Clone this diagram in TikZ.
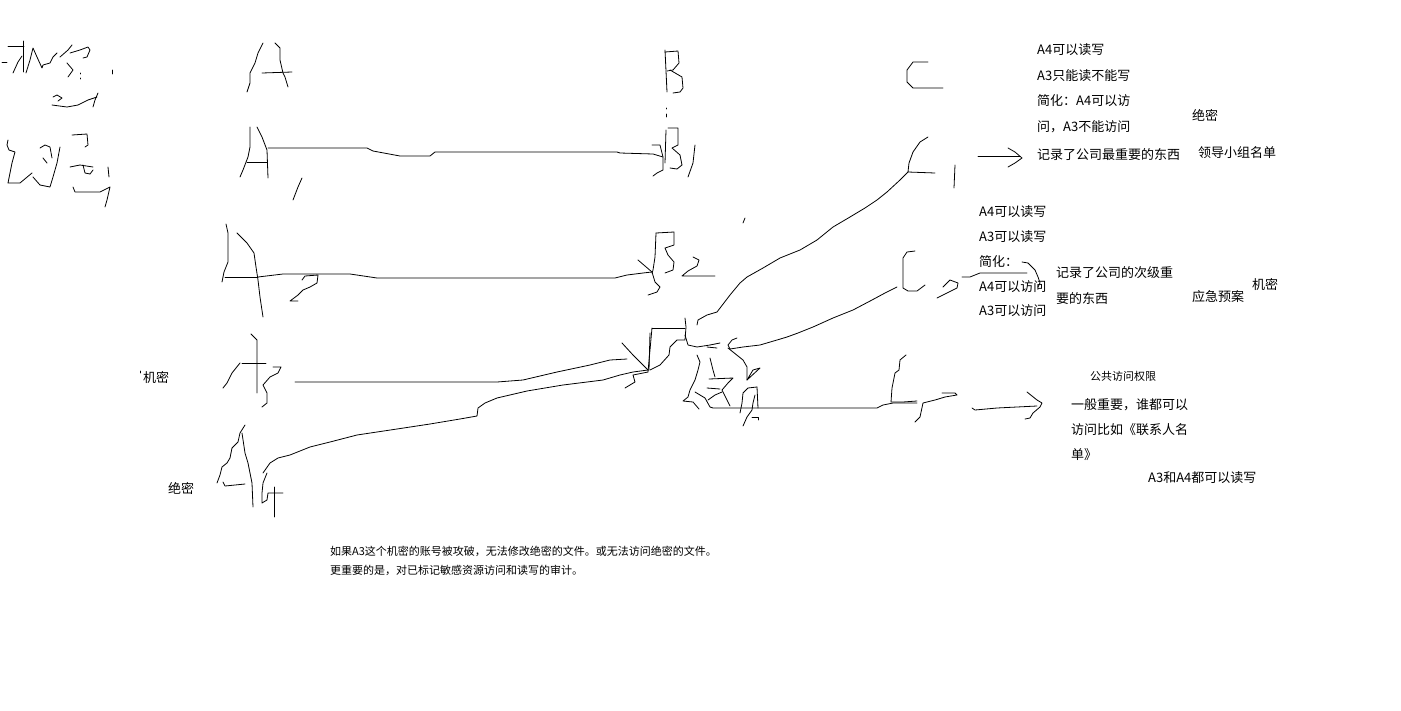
\documentclass[tikz,border=0pt]{standalone}
\usepackage{fontspec}
\newfontfamily\cjk{Noto Sans CJK SC}
\usetikzlibrary{positioning}

\begin{document}
\begin{tikzpicture}[
    x=1pt, y=-1pt,
    ink/.style={line width=0.8pt, line join=round, line cap=round},
    note/.style={anchor=west, inner sep=0pt, font=\cjk\fontsize{13}{13}\selectfont},
    small/.style={note, font=\cjk\fontsize{11}{11}\selectfont}
]
    \useasboundingbox[fill=white] (0,0) rectangle (1401,710);

    % Handwritten title marks
    \draw[ink] (2,62) -- (7,62);
    \draw[ink] (8,46) -- (24,46);
    \draw[ink] (23,41) -- (23,72);
    \draw[ink] (13,73) -- (18,62) -- (22,56);
    \draw[ink] (26,73) -- (30,60) -- (33,48) -- (37,57) -- (42,68) -- (43,65) -- (50,63) -- (53,57) -- (57,53);
    \draw[ink] (60,57) -- (68,50) -- (72,45);
    \draw[ink] (70,53) -- (80,50) -- (88,47) -- (90,50) -- (87,57) -- (83,58);
    \draw[ink] (67,63) -- (73,70) -- (68,77);
    \draw[ink] (80,73) -- (80,74) (80,78) -- (80,79);
    \draw[ink] (53,97) -- (57,95) -- (62,98) -- (58,101);
    \draw[ink] (52,105) -- (67,107) -- (78,105) -- (88,100) -- (97,97);
    \draw[ink] (98,93) -- (95,100) -- (93,107);
    \draw[ink] (112,70) -- (112,74);

    \draw[ink] (8,140) -- (7,145) -- (9,150) -- (15,152) -- (12,163) -- (10,173) -- (8,183) -- (20,183) -- (32,173);
    \draw[ink] (40,148) -- (45,145) -- (50,147) -- (52,158);
    \draw[ink] (43,158) -- (47,163);
    \draw[ink] (33,177) -- (40,185) -- (50,187) -- (53,177) -- (57,163) -- (60,147);
    \draw[ink] (72,135) -- (87,134) -- (88,145) -- (85,147);
    \draw[ink] (70,167) -- (80,165) -- (93,167);
    \draw[ink] (83,165) -- (85,173) -- (90,174) -- (93,170);
    \draw[ink] (108,167) -- (109,177);
    \draw[ink] (73,187) -- (75,192) -- (100,192) -- (110,187) -- (107,200) -- (105,207);

    % Letter A
    \draw[ink] (247,92) -- (250,83) -- (250,73) -- (255,63) -- (258,53) -- (263,43);
    \draw[ink] (275,43) -- (280,48) -- (280,60) -- (283,73) -- (285,77) -- (288,87);
    \draw[ink] (262,73) -- (292,72);

    % Letter B
    \draw[ink] (665,50) -- (667,92);
    \draw[ink] (665,52) -- (678,51) -- (679,63) -- (673,70) -- (667,71);
    \draw[ink] (670,70) -- (682,77) -- (683,88) -- (680,92) -- (673,93);
    \draw[ink] (666,108) -- (666,109) (666,114) -- (666,117);

    % Letter C
    \draw[ink] (928,62) -- (913,62) -- (907,70) -- (907,82) -- (913,88) -- (943,88);

    % A1
    \draw[ink] (240,177) -- (243,170) -- (248,157) -- (250,147) -- (250,127);
    \draw[ink] (257,127) -- (262,137) -- (267,150) -- (268,178);
    \draw[ink] (247,162) -- (267,162);
    \draw[ink] (302,178) -- (298,187) -- (293,200);

    % B1
    \draw[ink] (666,130) -- (665,163);
    \draw[ink] (668,128) -- (678,128) -- (678,145) -- (672,148) -- (680,155) -- (682,165) -- (677,169) -- (670,168);
    \draw[ink] (652,145) -- (660,145) -- (663,157) -- (663,170) -- (657,173) -- (653,176);
    \draw[ink] (695,145) -- (693,163) -- (688,177);

    % A1 to B1
    \draw[ink] (268,148) -- (367,148) -- (373,151) -- (400,156) -- (430,156) -- (435,152) -- (617,152) -- (620,153) -- (653,154) -- (663,157);

    % C1
    \draw[ink] (928,137) -- (920,142) -- (913,152) -- (909,163) -- (908,172) -- (935,173);
    \draw[ink] (955,165) -- (954,188);
    \draw[ink] (908,172) -- (900,180) -- (887,192) -- (877,200) -- (865,208) -- (850,217) -- (833,227) -- (817,240) -- (800,250) -- (780,258) -- (763,268) -- (747,277) -- (740,283) -- (730,295) -- (717,312) -- (707,315) -- (698,320) -- (697,325);
    \draw[ink] (745,218) -- (743,223);
    \draw[ink] (978,156) -- (1020,156);
    \draw[ink] (1008,148) -- (1015,152) -- (1022,158) -- (1015,163) -- (1008,167);

    % A2
    \draw[ink] (226,224) -- (228,233) -- (228,262) -- (224,272) -- (222,282);
    \draw[ink] (237,233) -- (247,243) -- (254,253) -- (256,267) -- (258,280) -- (260,297) -- (263,317);
    \draw[ink] (225,277) -- (258,277);
    \draw[ink] (302,280) -- (305,276) -- (318,275) -- (317,283) -- (310,287) -- (303,290) -- (298,295) -- (290,301) -- (298,301);

    % A2 to B2
    \draw[ink] (258,277) -- (283,274) -- (350,274) -- (377,278) -- (615,278) -- (627,275) -- (643,273) -- (652,272);

    % B2
    \draw[ink] (656,233) -- (655,257) -- (653,270) -- (652,273);
    \draw[ink] (656,233) -- (674,232) -- (674,245) -- (665,248) -- (668,255) -- (674,262) -- (673,270) -- (665,273);
    \draw[ink] (638,260) -- (652,272) -- (655,282) -- (660,287) -- (657,292) -- (648,295);
    \draw[ink] (693,257) -- (699,260) -- (697,266) -- (688,271) -- (682,276) -- (715,276);

    % C2
    \draw[ink] (915,251) -- (907,252) -- (903,258) -- (903,288) -- (908,291) -- (917,291) -- (925,285);
    \draw[ink] (943,287) -- (950,280) -- (958,283) -- (957,288) -- (947,293) -- (937,298);
    \draw[ink] (962,277) -- (970,277) -- (980,273) -- (1027,273);
    \draw[ink] (1022,262) -- (1028,263) -- (1035,270) -- (1038,277) -- (1040,283) -- (1038,287);
    \draw[ink] (897,287) -- (885,293) -- (872,300) -- (853,310) -- (833,318) -- (813,327) -- (798,333) -- (787,337) -- (777,340) -- (760,345) -- (743,347) -- (730,349) -- (728,345) -- (732,340) -- (737,338);

    % A3
    \draw[ink] (251,334) -- (257,340) -- (257,393);
    \draw[ink] (242,363) -- (266,363);
    \draw[ink] (240,363) -- (232,373) -- (227,383) -- (223,388);
    \draw[ink] (273,367) -- (281,367) -- (278,373) -- (270,377) -- (263,385) -- (267,393) -- (267,403) -- (262,407);
    \draw[ink] (295,382) -- (497,382) -- (523,380) -- (557,372) -- (590,365) -- (610,360) -- (627,359);
    \draw[ink] (622,343) -- (633,355) -- (648,370);
    \draw[ink] (625,388) -- (635,382) -- (633,375) -- (648,372);

    % A4
    \draw[ink] (245,425) -- (240,433) -- (238,442) -- (232,448) -- (230,458) -- (227,463) -- (222,467) -- (220,475) -- (217,483);
    \draw[ink] (242,433) -- (245,453) -- (248,463) -- (252,483) -- (253,507);
    \draw[ink] (223,482) -- (225,486) -- (245,484);
    \draw[ink] (267,473) -- (263,483) -- (262,493) -- (262,503) -- (267,500) -- (268,493) -- (283,493);
    \draw[ink] (274,487) -- (274,517);
    \draw[ink] (263,473) -- (270,463) -- (278,458) -- (290,455) -- (310,447) -- (330,442) -- (357,435) -- (397,429) -- (430,424) -- (460,419) -- (477,416) -- (478,408) -- (485,403) -- (497,398) -- (527,391) -- (563,385) -- (603,380) -- (620,375) -- (633,372) -- (648,370);

    % Level box
    \draw[ink] (652,328) -- (685,328);
    \draw[ink] (652,328) -- (648,372);
    \draw[ink] (650,333) -- (649,370);
    \draw[ink] (685,318) -- (686,327) -- (685,340) -- (677,340) -- (670,347) -- (669,355) -- (660,365) -- (650,370);
    \draw[ink] (685,335) -- (688,345) -- (697,347) -- (710,345) -- (720,343);
    \draw[ink] (707,347) -- (717,348);

    % Level mark
    \draw[ink] (697,355) -- (700,362) -- (698,370) -- (695,380) -- (690,390) -- (688,397) -- (683,401) -- (693,402) -- (699,409);
    \draw[ink] (710,358) -- (713,370) -- (715,377);
    \draw[ink] (709,379) -- (733,378) -- (728,383) -- (722,390) -- (727,400) -- (730,406);
    \draw[ink] (707,388) -- (720,389);
    \draw[ink] (722,392) -- (715,395) -- (708,400);
    \draw[ink] (728,348) -- (733,352) -- (743,360) -- (747,367) -- (747,380);
    \draw[ink] (747,380) -- (760,368) -- (753,370) -- cycle;
    \draw[ink] (757,387) -- (748,388) -- (743,393) -- (742,403) -- (740,413);
    \draw[ink] (757,387) -- (758,408);
    \draw[ink] (755,395) -- (753,403) -- (752,410) -- (747,417) -- (743,426);
    \draw[ink] (752,417) -- (758,417) -- (758,420);
    \draw[ink] (695,392) -- (705,398) -- (710,407) -- (713,408) -- (877,408) -- (883,405) -- (893,403) -- (917,403);

    % C3
    \draw[ink] (906,355) -- (900,360) -- (899,370) -- (895,373) -- (893,383) -- (892,388) -- (891,402) -- (903,402) -- (917,401);
    \draw[ink] (915,422) -- (920,417) -- (923,403) -- (927,402) -- (935,400) -- (945,397) -- (957,395) -- (955,393) -- (942,393);
    \draw[ink] (972,408) -- (975,410) -- (997,408) -- (1037,406);
    \draw[ink] (1027,392) -- (1037,400) -- (1042,403) -- (1040,407) -- (1033,413) -- (1030,418) -- (1025,419);

    % Notes
    \node[note] (lblA3) at (143,377) {机密};
    \draw[ink] (140,371) -- (140,373);
    \node[note] (lblA4) at (168,488) {绝密};

    \node[note] (c1a) at (1037,50) {A4可以读写};
    \node[note] (c1b) at (1037,76) {A3只能读不能写};
    \node[note] (c1c) at (1037,101) {简化：A4可以访};
    \node[note] (c1d) at (1037,127) {问，A3不能访问};
    \node[note] (c1e) at (1037,155) {记录了公司最重要的东西};
    \node[note] (c1lvl) at (1192,115) {绝密};
    \node[note] (c1ex) at (1198,153) {领导小组名单};

    \node[note] (c2a) at (979,212) {A4可以读写};
    \node[note] (c2b) at (979,237) {A3可以读写};
    \node[note] (c2c) at (979,262) {简化：};
    \node[note] (c2d) at (979,287) {A4可以访问};
    \node[note] (c2e) at (979,311) {A3可以访问};
    \node[note] (c2f) at (1056,273) {记录了公司的次级重};
    \node[note] (c2g) at (1056,299) {要的东西};
    \node[note] (c2ex) at (1192,297) {应急预案};
    \node[note] (c2lvl) at (1252,284) {机密};

    \node[small] (c3lvl) at (1090,376) {公共访问权限};
    \node[note] (c3a) at (1071,405) {一般重要，谁都可以};
    \node[note] (c3b) at (1071,430) {访问比如《联系人名};
    \node[note] (c3c) at (1071,455) {单》};
    \node[note] (c3d) at (1148,478) {A3和A4都可以读写};

    \node[small] (sum1) at (330,551) {如果A3这个机密的账号被攻破，无法修改绝密的文件。或无法访问绝密的文件。};
    \node[small] (sum2) at (330,570) {更重要的是，对已标记敏感资源访问和读写的审计。};
\end{tikzpicture}
\end{document}
